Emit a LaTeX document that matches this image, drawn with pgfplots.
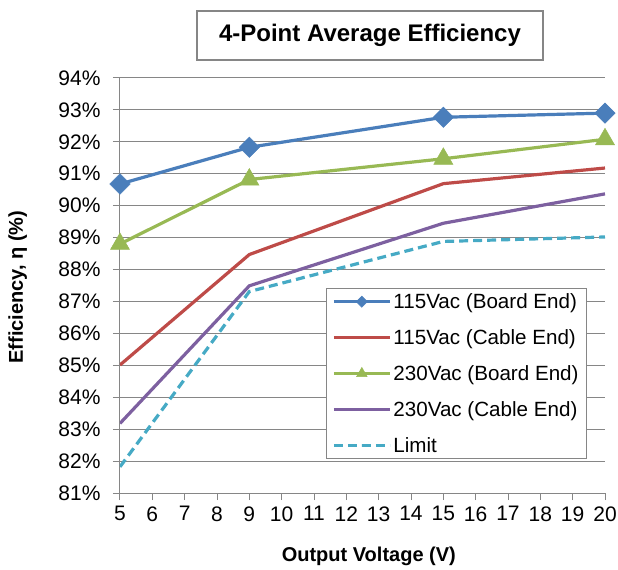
\documentclass[border=0pt]{standalone}
\usepackage{pgfplots}
\pgfplotsset{compat=1.18}
\usepackage{fontspec}
\setmainfont{Liberation Sans}
\definecolor{cBlue}{HTML}{4A7EBB}
\definecolor{cRed}{HTML}{BE4B48}
\definecolor{cGreen}{HTML}{98B954}
\definecolor{cPurple}{HTML}{7D60A0}
\definecolor{cLimit}{HTML}{46AAC5}
\definecolor{cGrid}{HTML}{868686}
\begin{document}
\begin{tikzpicture}
\path[use as bounding box] (-120bp,-77bp) rectangle (498bp,493bp);
\begin{axis}[
  at={(0,0)}, anchor=south west,
  scale only axis, width=485bp, height=415bp,
  xmin=5, xmax=20, ymin=81, ymax=94,
  xtick={5,6,...,20}, ytick={81,82,...,94},
  axis lines*=left,
  axis line style={cGrid, line width=1bp},
  ymajorgrids, grid style={cGrid, line width=1bp},
  tick style={cGrid, line width=1bp},
  tick align=outside, major tick length=7bp,
  /pgf/number format/assume math mode=true,
  yticklabel={\pgfmathprintnumber{\tick}\%},
  ticklabel style={font=\fontsize{21bp}{23bp}\selectfont, text=black},
  yticklabel style={xshift=-9bp},
  xticklabel style={yshift=-3bp},
  xlabel={Output Voltage (V)},
  ylabel={Efficiency, η (\%)},
  xlabel style={font=\bfseries\fontsize{20bp}{22bp}\selectfont, at={(axis description cs:0.513,-0.152)}, anchor=center},
  ylabel style={font=\bfseries\fontsize{20bp}{22bp}\selectfont, at={(axis description cs:-0.211,0.496)}, anchor=center, rotate=0},
  legend style={at={(rel axis cs:0.963,0.494)}, anchor=north east, draw=cGrid, line width=1bp,
    font=\fontsize{20.6bp}{22bp}\selectfont, row sep=15.5bp, inner xsep=6bp, inner ysep=3bp,
    cells={anchor=west}},
  legend image code/.code={\draw[mark repeat=2,mark phase=2, every mark/.append style={scale=0.55}] plot coordinates {(0bp,0bp) (28bp,0bp) (56bp,0bp)};},
  every axis plot/.append style={line width=3.2bp},
]
\addplot[cBlue, mark=square*, mark size=7.2bp, mark options={rotate=45, fill=cBlue, draw=cBlue, line width=0.5bp}]
  coordinates {(5,90.68) (9,91.83) (15,92.77) (20,92.90)};
\addlegendentry{115Vac (Board End)}
\addplot[cRed]
  coordinates {(5,85.01) (9,88.47) (15,90.69) (20,91.18)};
\addlegendentry{115Vac (Cable End)}
\addplot[cGreen, mark=triangle*, mark size=11bp, mark options={fill=cGreen, draw=cGreen, line width=0.5bp}]
  coordinates {(5,88.80) (9,90.82) (15,91.47) (20,92.08)};
\addlegendentry{230Vac (Board End)}
\addplot[cPurple]
  coordinates {(5,83.18) (9,87.49) (15,89.45) (20,90.37)};
\addlegendentry{230Vac (Cable End)}
\addplot[cLimit, dash pattern=on 9bp off 5bp]
  coordinates {(5,81.82) (9,87.31) (15,88.88) (20,89.02)};
\addlegendentry{Limit}
\end{axis}
\node[draw=cGrid, line width=1.5bp, minimum width=346bp, minimum height=49bp, inner sep=0pt,
  font=\bfseries\fontsize{24bp}{26bp}\selectfont] at (250bp,457.5bp) {4-Point Average Efficiency};
\end{tikzpicture}
\end{document}
